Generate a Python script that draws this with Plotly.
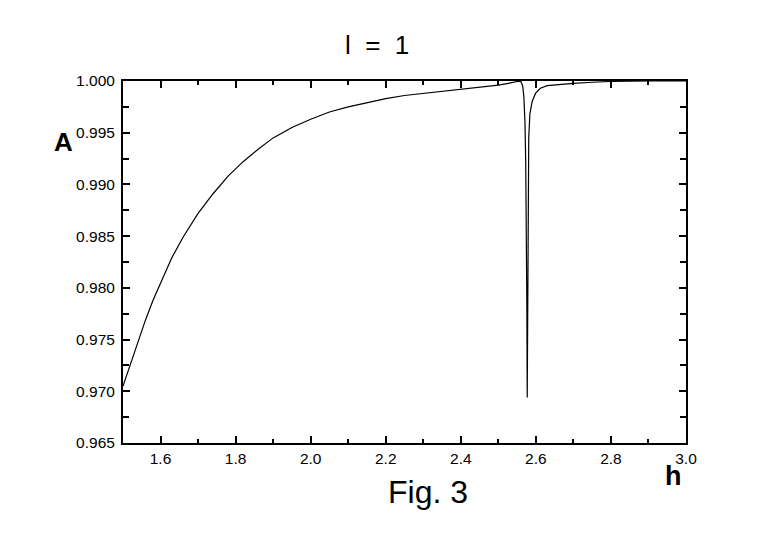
import plotly.graph_objects as go

# ---- data ----
h_values = [
    1.50, 1.52, 1.54, 1.56, 1.58, 1.60, 1.63, 1.66, 1.70, 1.74, 1.78, 1.82,
    1.86, 1.90, 1.95, 2.00, 2.05, 2.10, 2.15, 2.20, 2.25, 2.30, 2.35, 2.40,
    2.45, 2.50, 2.53, 2.55, 2.560, 2.565, 2.568, 2.571, 2.573, 2.5745, 2.576,
    2.577, 2.578, 2.5795, 2.581, 2.584, 2.590, 2.599, 2.612, 2.630, 2.657,
    2.70, 2.75, 2.80, 2.90, 3.00,
]
A_values = [
    0.9705, 0.9727, 0.9749, 0.9769, 0.9788, 0.9805, 0.9829, 0.9849, 0.9872,
    0.9891, 0.9908, 0.9922, 0.9934, 0.9945, 0.9955, 0.9963, 0.9970, 0.9975,
    0.9979, 0.9983, 0.9986, 0.9988, 0.9990, 0.9992, 0.9994, 0.9996, 0.9998,
    0.99995, 0.99995, 0.9995, 0.9985, 0.9960, 0.9920, 0.9870, 0.9780,
    0.9694, 0.9780, 0.9880, 0.9945, 0.9968, 0.9980, 0.9988, 0.9993, 0.99955,
    0.99965, 0.99978, 0.99988, 0.99995, 1.0000, 1.0000,
]

x_tick_vals = [1.6, 1.8, 2.0, 2.2, 2.4, 2.6, 2.8, 3.0]
x_tick_labels = ["1.6", "1.8", "2.0", "2.2", "2.4", "2.6", "2.8", "3.0"]
x_minor_vals = [1.7, 1.9, 2.1, 2.3, 2.5, 2.7, 2.9]

y_tick_vals = [0.965, 0.970, 0.975, 0.980, 0.985, 0.990, 0.995, 1.000]
y_tick_labels = ["0.965", "0.970", "0.975", "0.980", "0.985", "0.990", "0.995", "1.000"]
y_minor_vals = [0.9675, 0.9725, 0.9775, 0.9825, 0.9875, 0.9925, 0.9975]

title_text = "l\u00a0 =\u00a0 1"
y_label = "A"
x_label = "h"
caption = "Fig. 3"

FONT = "Liberation Sans, Arial, Helvetica, sans-serif"

fig = go.Figure()
fig.add_trace(go.Scatter(
    x=h_values, y=A_values, mode="lines",
    line=dict(color="black", width=1.2),
    hoverinfo="skip",
))

axis_common = dict(
    showline=True, linewidth=2, linecolor="black", mirror="allticks",
    ticks="inside", ticklen=7, tickwidth=1.5, tickcolor="black",
    showgrid=False, zeroline=False,
    tickfont=dict(family=FONT, size=15.5, color="black"),
)

fig.update_xaxes(
    range=[1.5, 3.0], tickmode="array", tickvals=x_tick_vals, ticktext=x_tick_labels,
    minor=dict(tickmode="array", tickvals=x_minor_vals, ticks="inside", ticklen=4,
               tickwidth=1.5, tickcolor="black", showgrid=False),
    **axis_common,
)
fig.update_yaxes(
    range=[0.965, 1.0], tickmode="array", tickvals=y_tick_vals, ticktext=y_tick_labels,
    ticklabelstandoff=3,
    minor=dict(tickmode="array", tickvals=y_minor_vals, ticks="inside", ticklen=6,
               tickwidth=1.5, tickcolor="black", showgrid=False),
    **axis_common,
)

fig.update_layout(
    width=770, height=545,
    margin=dict(l=115, r=92, t=73, b=110),
    plot_bgcolor="white", paper_bgcolor="white",
    showlegend=False,
    annotations=[
        dict(text=title_text, xref="paper", yref="paper", x=0.4515, y=1.099,
             xanchor="center", yanchor="middle", showarrow=False,
             font=dict(family=FONT, size=26, color="black")),
        dict(text="<b>" + y_label + "</b>", xref="paper", yref="paper", x=-0.1057, y=0.8315,
             xanchor="center", yanchor="middle", showarrow=False,
             font=dict(family=FONT, size=26, color="black")),
        dict(text="<b>" + x_label + "</b>", xref="paper", yref="paper", x=0.9778, y=-0.092,
             xanchor="center", yanchor="middle", showarrow=False,
             font=dict(family=FONT, size=27, color="black")),
        dict(text=caption, xref="paper", yref="paper", x=0.5417, y=-0.135,
             xanchor="center", yanchor="middle", showarrow=False,
             font=dict(family=FONT, size=32, color="black")),
    ],
)

fig.write_html("out.html")
